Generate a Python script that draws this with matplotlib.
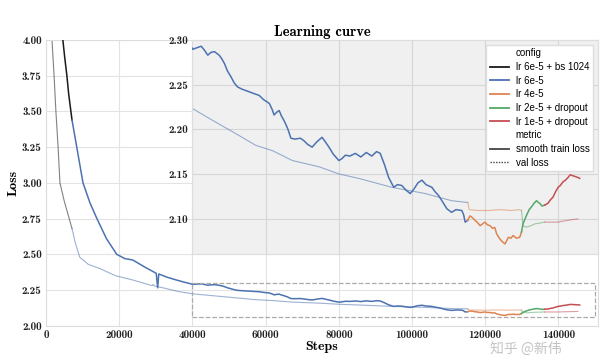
import matplotlib
matplotlib.use("Agg")
import matplotlib.pyplot as plt
from matplotlib.lines import Line2D
from matplotlib.patches import Rectangle

# colours of the seaborn "deep" palette used by the runs
run_colors = {
    "lr 6e-5 + bs 1024": "#1a1a1a",
    "lr 6e-5": "#4c72b0",
    "lr 4e-5": "#dd8452",
    "lr 2e-5 + dropout": "#55a868",
    "lr 1e-5 + dropout": "#c44e52",
}

# smooth train loss
steps_bs = [4200, 4600, 5100, 5700, 6200, 6800, 7100]
train_bs = [4.15, 4.00, 3.88, 3.75, 3.62, 3.50, 3.44]

steps_6e5 = [7100, 8400, 10100, 12000, 13900, 16500, 19300, 21500, 23700, 27000, 30100, 30500,
             30800, 33000, 35600, 38000, 40100, 41000, 42400, 43200, 44200, 45000, 46000, 47300,
             48000, 48700, 49600, 50500, 51400, 52300, 53500, 55500, 56800, 58200, 59500, 61000,
             61800, 62300, 63000, 63700, 64300, 65000, 66000, 66900, 68000, 69500, 70500, 71500,
             72700, 74000, 75400, 76300, 77300, 78500, 80000, 80800, 81800, 83000, 84500, 86000,
             87500, 89000, 90300, 91300, 92500, 93600, 95000, 96000, 97200, 98300, 99500, 100500,
             101600, 102700, 103800, 105400, 106300, 107200, 108000, 108600, 109500, 110800,
             112000, 113600, 114100, 114500, 115200]
train_6e5 = [3.44, 3.25, 3.00, 2.86, 2.75, 2.61, 2.50, 2.47, 2.46, 2.41, 2.367, 2.265,
             2.362, 2.34, 2.32, 2.303, 2.2896, 2.291, 2.293, 2.289, 2.283, 2.286, 2.287, 2.283,
             2.279, 2.274, 2.265, 2.259, 2.252, 2.2475, 2.245, 2.242, 2.240, 2.238, 2.233, 2.229,
             2.222, 2.216, 2.219, 2.221, 2.215, 2.210, 2.201, 2.190, 2.189, 2.190, 2.187, 2.183,
             2.180, 2.186, 2.191, 2.186, 2.180, 2.172, 2.165, 2.167, 2.171, 2.170, 2.173, 2.169,
             2.174, 2.170, 2.175, 2.173, 2.160, 2.146, 2.135, 2.138, 2.137, 2.132, 2.128, 2.133,
             2.140, 2.143, 2.138, 2.135, 2.130, 2.126, 2.121, 2.117, 2.111, 2.107,
             2.110, 2.109, 2.104, 2.096, 2.098]

steps_4e5 = [115200, 115800, 116500, 117200, 118000, 118600, 119900, 120600, 121300, 122000,
             122600, 123100, 124000, 124700, 125400, 126300, 127000, 127600, 128500, 129400, 129900]
train_4e5 = [2.098, 2.103, 2.101, 2.098, 2.095, 2.092, 2.096, 2.093, 2.092, 2.089,
             2.090, 2.083, 2.077, 2.074, 2.0716, 2.079, 2.078, 2.081, 2.078, 2.079, 2.085]

steps_2e5 = [129900, 130300, 131200, 132000, 132600, 133300, 134000, 134500, 134900, 135500, 136200]
train_2e5 = [2.085, 2.094, 2.103, 2.110, 2.113, 2.117, 2.120, 2.118, 2.117, 2.114, 2.115]

steps_1e5 = [136200, 137100, 137800, 138500, 139200, 139900, 140500, 141200, 141900, 142600,
             143200, 143900, 144600, 145300, 145800]
train_1e5 = [2.115, 2.117, 2.121, 2.124, 2.130, 2.135, 2.137, 2.141, 2.143, 2.146,
             2.149, 2.148, 2.147, 2.146, 2.145]

# val loss
val_steps_bs = [1400, 1630, 2200, 2700, 3300, 3800, 5000, 6000, 7100]
val_bs = [4.15, 4.00, 3.75, 3.50, 3.25, 3.00, 2.87, 2.78, 2.68]

val_steps_6e5 = [7100, 8000, 9200, 11500, 14700, 19000, 23700, 27000, 29000, 29300, 29600, 32000,
                 36000, 40100, 45500, 51900, 57300, 61900, 67300, 74600, 80000, 85400, 94500,
                 103600, 110800, 115200]
val_6e5 = [2.68, 2.58, 2.48, 2.43, 2.40, 2.35, 2.32, 2.295, 2.28, 2.29, 2.278, 2.265,
           2.24, 2.223, 2.210, 2.195, 2.182, 2.176, 2.165, 2.158, 2.150, 2.145, 2.135,
           2.128, 2.120, 2.118]

val_steps_4e5 = [115200, 115600, 118000, 121000, 124000, 127000, 129400, 129900]
val_4e5 = [2.118, 2.110, 2.109, 2.109, 2.110, 2.109, 2.110, 2.109]

val_steps_2e5 = [129900, 130300, 131200, 132500, 133500, 135000, 136200]
val_2e5 = [2.109, 2.092, 2.0903, 2.092, 2.094, 2.095, 2.096]

val_steps_1e5 = [136200, 138000, 139900, 141000, 142600, 144000, 145300]
val_1e5 = [2.096, 2.096, 2.096, 2.097, 2.098, 2.099, 2.0996]

runs = [
    ("lr 6e-5 + bs 1024", steps_bs, train_bs, val_steps_bs, val_bs),
    ("lr 6e-5", steps_6e5, train_6e5, val_steps_6e5, val_6e5),
    ("lr 4e-5", steps_4e5, train_4e5, val_steps_4e5, val_4e5),
    ("lr 2e-5 + dropout", steps_2e5, train_2e5, val_steps_2e5, val_2e5),
    ("lr 1e-5 + dropout", steps_1e5, train_1e5, val_steps_1e5, val_1e5),
]

x_ticks = list(range(0, 140001, 20000))
y_ticks = [2.00, 2.25, 2.50, 2.75, 3.00, 3.25, 3.50, 3.75, 4.00]
inset_y_ticks = [2.10, 2.15, 2.20, 2.25, 2.30]
x_max = 150800
inset_x = (40000, 150000)
inset_y = (2.06, 2.30)

serif_bold = "cmb10"
plt.rcParams["axes.unicode_minus"] = False

fig = plt.figure(figsize=(6, 3.61), dpi=100)
ax = fig.add_axes([0.0767, 0.0978, 0.92, 0.7914])


def draw_runs(a):
    for name, s, tr, vs, vl in runs:
        c = run_colors[name]
        a.plot(s, tr, color=c, lw=1.1, zorder=3)
        a.plot(vs, vl, color=c, lw=0.8, alpha=0.55, zorder=2)


def style_ticks(a):
    for lab in a.get_xticklabels() + a.get_yticklabels():
        lab.set_family(serif_bold)
        lab.set_fontsize(8)


draw_runs(ax)
ax.set_xticks(x_ticks)
ax.set_yticks(y_ticks)
ax.set_yticklabels([f"{v:.2f}" for v in y_ticks])
ax.set_xlim(0, x_max)
ax.set_ylim(2.0, 4.0)
ax.grid(True, color="#e3e3e3", lw=0.8)
ax.set_axisbelow(True)
ax.tick_params(length=0, pad=3, colors="#222222")
for sp in ax.spines.values():
    sp.set_color("#dddddd")
style_ticks(ax)
ax.set_xlabel("Steps", family=serif_bold, fontsize=10, labelpad=1)
ax.set_ylabel("Loss", family=serif_bold, fontsize=10, labelpad=2)
ax.set_title("Learning curve", family=serif_bold, fontsize=10.5, pad=3)

# dashed box showing the zoomed region
ax.add_patch(Rectangle((inset_x[0], inset_y[0]), inset_x[1] - inset_x[0], inset_y[1] - inset_y[0],
                       fill=False, ls="--", lw=0.9, ec="#aaaaaa", zorder=4))

# zoomed inset, same x scale as the main axes
ins = ax.inset_axes([inset_x[0], 2.5, x_max - inset_x[0], 1.5], transform=ax.transData)
draw_runs(ins)
ins.set_facecolor("#f0f0f0")
ins.set_xticks(x_ticks)
ins.set_xticklabels([])
ins.set_yticks(inset_y_ticks)
ins.set_yticklabels([f"{v:.2f}" for v in inset_y_ticks])
ins.set_xlim(inset_x[0], x_max)
ins.set_ylim(inset_y)
ins.grid(True, color="#d6d6d6", lw=0.8)
ins.set_axisbelow(True)
ins.tick_params(length=0, pad=3, colors="#222222")
for sp in ins.spines.values():
    sp.set_color("#dddddd")
style_ticks(ins)

# seaborn-style legend with section headers
handles, labels = [], []
handles.append(Line2D([], [], color="none"))
labels.append("config")
for name in run_colors:
    handles.append(Line2D([], [], color=run_colors[name], lw=1.3))
    labels.append(name)
handles.append(Line2D([], [], color="none"))
labels.append("metric")
handles.append(Line2D([], [], color="#444444", lw=1.3))
labels.append("smooth train loss")
handles.append(Line2D([], [], color="#444444", lw=1.0, ls=(0, (1, 1))))
labels.append("val loss")
leg = ins.legend(handles, labels, loc="upper right", frameon=True,
                 fancybox=False, framealpha=1, edgecolor="#dddddd", borderpad=0.35,
                 labelspacing=0.38, handlelength=2.0, handletextpad=0.7,
                 prop={"family": "Liberation Sans", "size": 7})
leg.set_zorder(10)

# source watermark
fig.text(0.816, 0.035, "知乎 @新伟", family=["Noto Sans CJK SC", "DejaVu Sans"],
         fontsize=10, color="#c4c4c4", va="center", zorder=20)

plt.savefig("out.png", dpi=100)
